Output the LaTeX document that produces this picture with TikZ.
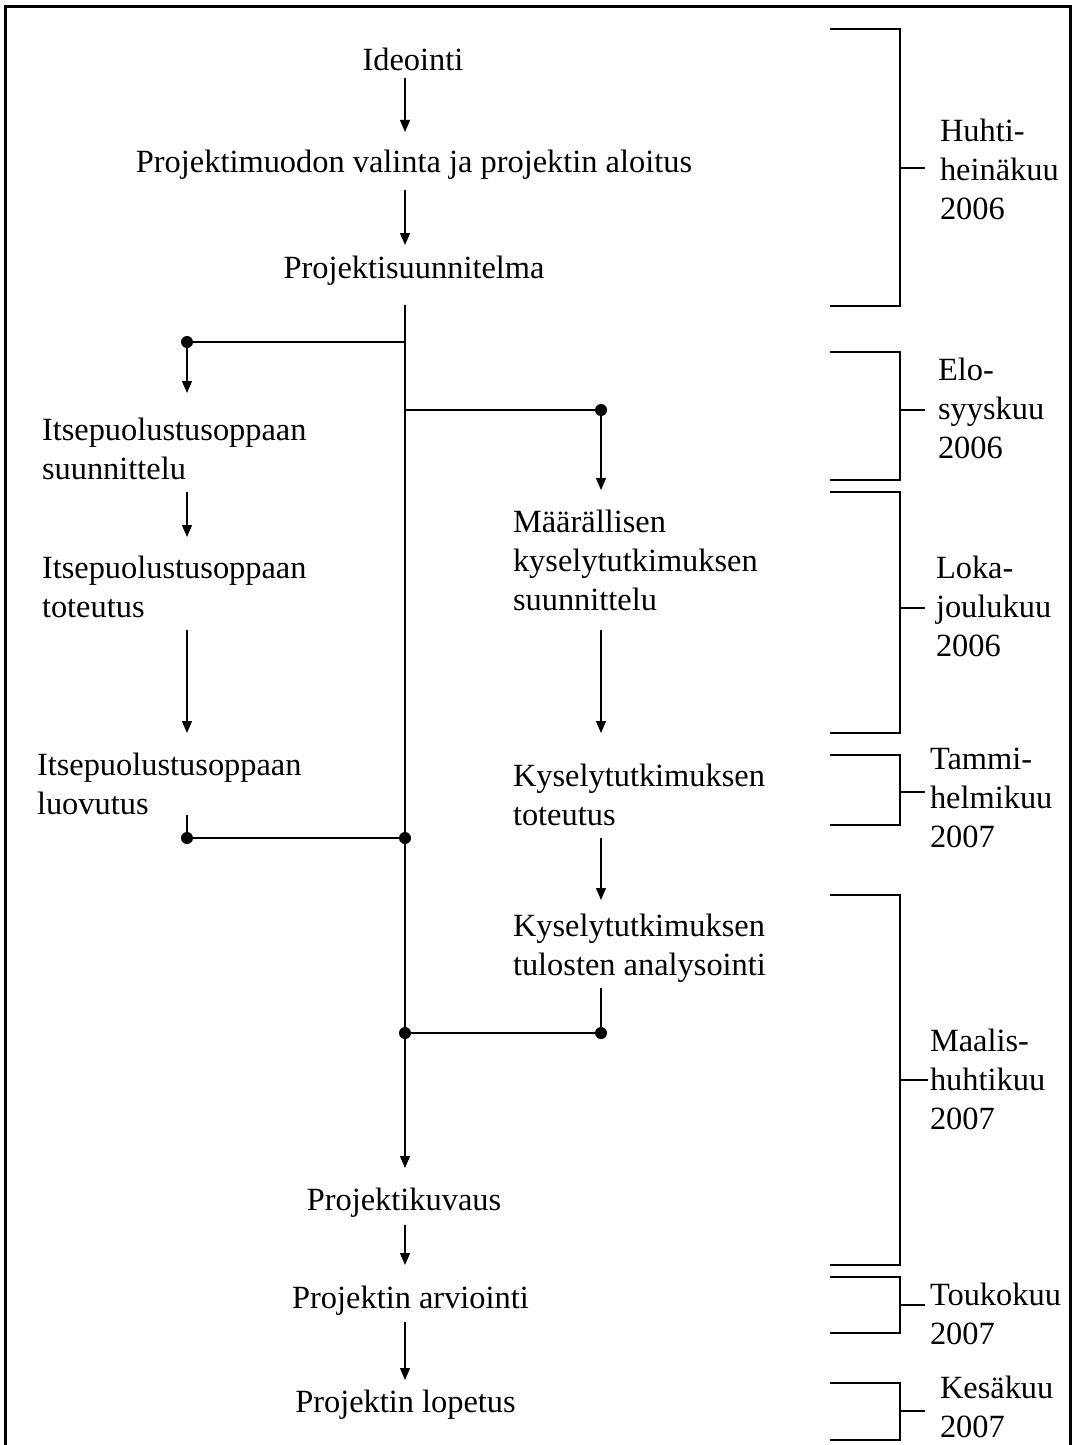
\documentclass[tikz,border=0pt]{standalone}
\usepackage{fontspec}
\setmainfont{Liberation Serif}
\usetikzlibrary{arrows.meta,calc}
\begin{document}
\begin{tikzpicture}[x=0.5pt,y=-0.5pt,
  lbl/.style={font=\fontsize{16.2}{19.5}\selectfont, inner sep=0pt, outer sep=0pt},
  lblL/.style={lbl, align=left, anchor=west},
  lblC/.style={lbl, anchor=base},
  conn/.style={line width=0.65pt},
  arr/.style={conn,-{Triangle[width=5pt,length=6pt]}},
  dotn/.style={circle, fill, inner sep=0pt, minimum size=6pt},
  brk/.style={line width=0.9pt},
  frm/.style={line width=1.5pt}]
\useasboundingbox (0,0) rectangle (1075,1445);
% frame
\draw[frm] (5,1470) -- (5,7) -- (1070,7) -- (1070,1470);

% central column
\node[lblC] (ideo)  at (413,70.5)   {Ideointi};
\node[lblC] (proj1) at (414,172.5)  {Projektimuodon valinta ja projektin aloitus};
\node[lblC] (psuun) at (414,278.5)  {Projektisuunnitelma};
\node[lblC] (pkuv)  at (404,1210.5) {Projektikuvaus};
\node[lblC] (parv)  at (410.5,1308.5) {Projektin arviointi};
\node[lblC] (plop)  at (405.5,1412.5) {Projektin lopetus};

% left column
\node[lblL] (isuun) at (42,448.5) {Itsepuolustusoppaan\\suunnittelu};
\node[lblL] (itot)  at (42,586.5) {Itsepuolustusoppaan\\toteutus};
\node[lblL] (iluo)  at (37,783.5) {Itsepuolustusoppaan\\luovutus};

% right column
\node[lblL] (msuun) at (513,560.5) {Määrällisen\\kyselytutkimuksen\\suunnittelu};
\node[lblL] (ktot)  at (513,794.5) {Kyselytutkimuksen\\toteutus};
\node[lblL] (kana)  at (513,948.5) {Kyselytutkimuksen\\tulosten analysointi};

% junctions and dots
\coordinate (trunk) at (405,0);
\coordinate (j1) at (405,342);
\coordinate (j2) at (405,410);
\node[dotn] (j3) at (405,838) {};
\node[dotn] (j4) at (405,1033) {};
\node[dotn] (d1) at (187,342) {};
\node[dotn] (d2) at (601,410) {};
\node[dotn] (d3) at (187,838) {};
\node[dotn] (d4) at (601,1033) {};

% central connectors
\draw[arr] ($(ideo.base -| trunk)+(0,7.5)$) -- ($(proj1.base -| trunk)+(0,-40.5)$);
\draw[arr] ($(proj1.base -| trunk)+(0,17.5)$) -- ($(psuun.base -| trunk)+(0,-33.5)$);
\draw[conn] ($(psuun.base -| trunk)+(0,26.5)$) -- (j1) -- (j2) -- (j3) -- (j4);
\draw[arr] (j4) -- ($(pkuv.base -| trunk)+(0,-42.5)$);
\draw[arr] ($(pkuv.base -| trunk)+(0,14.5)$) -- ($(parv.base -| trunk)+(0,-43.5)$);
\draw[arr] ($(parv.base -| trunk)+(0,13.5)$) -- ($(plop.base -| trunk)+(0,-32.5)$);

% left branch
\draw[conn] (j1) -- (d1);
\draw[arr] (d1) -- ($(isuun.west -| d1)+(0,-55.5)$);
\draw[arr] ($(isuun.west -| d1)+(0,43.5)$) -- ($(itot.west -| d1)+(0,-49.5)$);
\draw[arr] ($(itot.west -| d1)+(0,43.5)$) -- ($(iluo.west -| d1)+(0,-50.5)$);
\draw[conn] ($(iluo.west -| d1)+(0,31.5)$) -- (d3);
\draw[conn] (d3) -- (j3);

% right branch
\draw[conn] (j2) -- (d2);
\draw[arr] (d2) -- ($(msuun.west -| d2)+(0,-70.5)$);
\draw[arr] ($(msuun.west -| d2)+(0,69.5)$) -- ($(ktot.west -| d2)+(0,-61.5)$);
\draw[arr] ($(ktot.west -| d2)+(0,43.5)$) -- ($(kana.west -| d2)+(0,-48.5)$);
\draw[conn] ($(kana.west -| d2)+(0,39.5)$) -- (d4);
\draw[conn] (d4) -- (j4);

% brackets
\draw[brk] (830,29) -- (900,29) -- (900,306) -- (830,306);
\draw[brk] (900,168) -- (925,168);
\node[lblL] (b1) at (940,169) {Huhti-\\heinäkuu\\2006};

\draw[brk] (830,352) -- (900,352) -- (900,480) -- (830,480);
\draw[brk] (900,410) -- (925,410);
\node[lblL] (b2) at (938,408.5) {Elo-\\syyskuu\\2006};

\draw[brk] (830,492) -- (900,492) -- (900,733) -- (830,733);
\draw[brk] (900,608) -- (925,608);
\node[lblL] (b3) at (936,606) {Loka-\\joulukuu\\2006};

\draw[brk] (830,755) -- (900,755) -- (900,825) -- (830,825);
\draw[brk] (900,792) -- (925,792);
\node[lblL] (b4) at (930,797.5) {Tammi-\\helmikuu\\2007};

\draw[brk] (830,895) -- (900,895) -- (900,1265) -- (830,1265);
\draw[brk] (900,1080) -- (928,1080);
\node[lblL] (b5) at (930,1079) {Maalis-\\huhtikuu\\2007};

\draw[brk] (830,1277) -- (900,1277) -- (900,1333) -- (830,1333);
\draw[brk] (900,1305) -- (925,1305);
\node[lblL] (b6) at (930,1314) {Toukokuu\\2007};

\draw[brk] (830,1383) -- (900,1383) -- (900,1440) -- (830,1440);
\draw[brk] (900,1411) -- (925,1411);
\node[lblL] (b7) at (940,1406.5) {Kesäkuu\\2007};
\end{tikzpicture}
\end{document}
